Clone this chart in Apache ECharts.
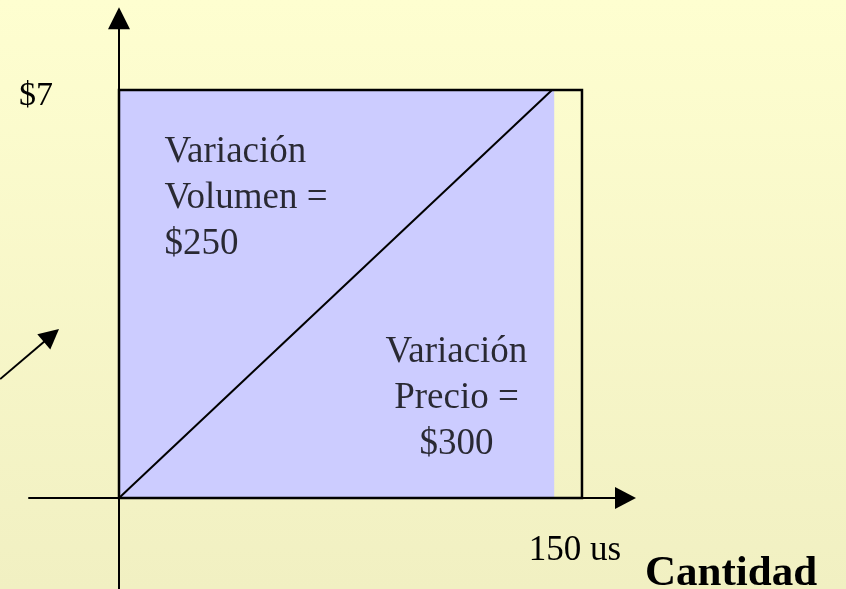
<!DOCTYPE html>
<html>
<head>
<meta charset="utf-8">
<script src="https://cdn.jsdelivr.net/npm/echarts@6/dist/echarts.min.js"></script>
<style>
  html, body { margin: 0; padding: 0; }
  #chart { width: 846px; height: 589px; }
</style>
</head>
<body>
<div id="chart"></div>
<script>
// datos
const priceTicks = [7]            // $7
const qtyTicks = [150]            // 150 us
const qtyUnit = 'us'
const axisTitle = 'Cantidad'
const totalBox = [[0, 0, 150, 7]]      // rectángulo total
const volumeFill = [[0, 0, 141, 7]]    // área sombreada
const diagonal = [[0, 0], [140.3, 7]]
const pointer = [[-38.5, 2.04], [-21.9, 2.79]]   // flecha de la izquierda
const volumeNote = ['Variación', 'Volumen =', '$250']
const priceNote = ['Variación', 'Precio =', '$300']
const notePos = [[14.9, 6.315], [109.5, 2.884]]

const serif = '"Liberation Serif", "DejaVu Serif", serif'
const noteStyle = { color: '#000', fontFamily: serif, fontSize: 37, lineHeight: 46 }

const chart = echarts.init(document.getElementById('chart'))

const rectItem = (fill, stroke, lw) => (params, api) => {
  const p0 = api.coord([api.value(0), api.value(1)])
  const p1 = api.coord([api.value(2), api.value(3)])
  return {
    type: 'rect',
    shape: { x: p0[0], y: p1[1], width: p1[0] - p0[0], height: p0[1] - p1[1] },
    style: { fill: fill, stroke: stroke, lineWidth: lw }
  }
}

const option = {
  backgroundColor: new echarts.graphic.LinearGradient(0, 0, 0, 1, [
    { offset: 0, color: '#fefed0' },
    { offset: 1, color: '#f1f0c2' }
  ]),
  animation: false,
  grid: { left: 29, right: 220.5, top: 18.3, bottom: 0, containLabel: false, outerBoundsMode: 'none' },
  xAxis: {
    type: 'value',
    min: -29.16,
    max: 164.1,
    splitLine: { show: false },
    axisTick: { show: false },
    axisLine: {
      onZero: true,
      symbol: ['none', 'triangle'],
      symbolSize: [22, 21],
      lineStyle: { color: '#000', width: 2 }
    },
    axisLabel: {
      customValues: qtyTicks,
      formatter: v => v + ' ' + qtyUnit,
      color: '#000',
      fontFamily: serif,
      fontSize: 35,
      lineHeight: 36,
      verticalAlign: 'top',
      margin: -56.5,
      padding: [0, 14, 0, 0]
    },
    name: axisTitle,
    nameLocation: 'end',
    nameGap: 19.5,
    nameMoveOverlap: false,
    nameTextStyle: {
      color: '#000',
      fontFamily: serif,
      fontWeight: 'bold',
      fontSize: 43,
      lineHeight: 43,
      align: 'left',
      verticalAlign: 'top',
      padding: [54, 0, 0, 0]
    }
  },
  yAxis: {
    type: 'value',
    min: -1.561,
    max: 8.23,
    splitLine: { show: false },
    axisTick: { show: false },
    axisLine: {
      onZero: true,
      symbol: ['none', 'triangle'],
      symbolSize: [22, 22],
      lineStyle: { color: '#000', width: 2 }
    },
    axisLabel: {
      customValues: priceTicks,
      formatter: v => '$' + v,
      color: '#000',
      fontFamily: serif,
      fontSize: 34,
      margin: -24,
      verticalAlign: 'top',
      lineHeight: 13
    }
  },
  series: [
    {
      type: 'custom',
      renderItem: rectItem('#ccccff', null, 0),
      data: volumeFill,
      silent: true,
      z: 1
    },
    {
      type: 'custom',
      renderItem: rectItem(null, '#000', 2.5),
      data: totalBox,
      silent: true,
      z: 2
    },
    {
      type: 'line',
      data: diagonal,
      showSymbol: false,
      lineStyle: { color: '#000', width: 2 },
      silent: true,
      z: 3
    },
    {
      type: 'lines',
      coordinateSystem: 'cartesian2d',
      clip: false,
      data: [{ coords: pointer }],
      symbol: ['none', 'triangle'],
      symbolSize: [16, 20],
      lineStyle: { color: '#000', width: 2, opacity: 1 },
      silent: true,
      z: 3
    },
    {
      type: 'scatter',
      symbolSize: 1,
      itemStyle: { color: 'transparent' },
      silent: true,
      z: 4,
      data: [
        {
          value: notePos[0],
          label: Object.assign({
            show: true, position: [0, 0], align: 'left', verticalAlign: 'top',
            formatter: volumeNote.join('\n')
          }, noteStyle)
        },
        {
          value: notePos[1],
          label: Object.assign({
            show: true, position: [0, 0], align: 'center', verticalAlign: 'top',
            formatter: priceNote.join('\n')
          }, noteStyle)
        }
      ]
    }
  ]
}

chart.setOption(option)
window.addEventListener('resize', () => chart.resize())
</script>
</body>
</html>
